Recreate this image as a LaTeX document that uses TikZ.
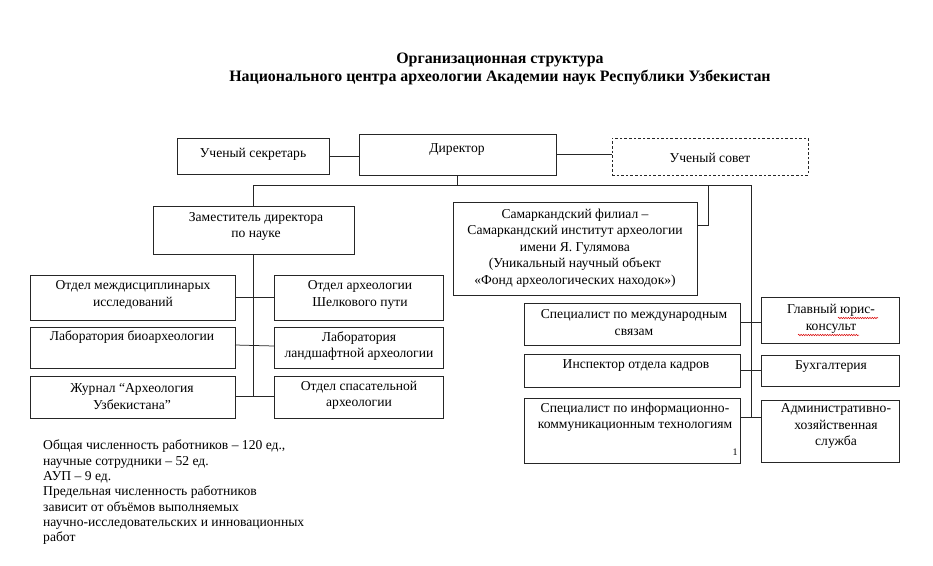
\documentclass[tikz,border=0pt]{standalone}
\usepackage{fontspec}
\setmainfont{Liberation Serif}
\usetikzlibrary{calc,decorations.pathmorphing}
\tikzset{
  box/.style={draw=black!85, line width=0.75pt, inner sep=0pt, outer sep=0pt},
  dbox/.style={box, dash pattern=on 2.6pt off 2pt},
  txt/.style={inner sep=0pt, align=center, font=\fontsize{13.6}{16.4}\selectfont},
  conn/.style={draw=black!85, line width=0.75pt},
  squig/.style={draw=red!85!black, line width=0.5pt, decorate,
    decoration={snake, amplitude=0.7pt, segment length=2.4pt}},
}
% \bx[style]{name}{x1}{y1}{x2}{y2}{text x,y}{text}
\newcommand\bx[8][box]{%
  \pgfmathsetmacro\bxw{#5-#3}%
  \pgfmathsetmacro\bxh{#6-#4}%
  \node[#1, minimum width=\bxw pt, minimum height=\bxh pt, anchor=north west] (#2) at (#3,#4) {};
  \node[txt] (#2-t) at (#7) {#8};
}
\begin{document}
\begin{tikzpicture}[x=1pt,y=-1pt]
\useasboundingbox (0,0) rectangle (933,565);

\node[inner sep=0pt, align=center, font=\fontsize{15.9}{18}\selectfont\bfseries] (title) at (500,69)
  {Организационная структура\\Национального центра археологии Академии наук Республики Узбекистан};

% top row
\bx{sec}{177}{138}{329}{174}{253,154}{Ученый секретарь}
\bx{dir}{359}{134}{556}{175}{457,149}{Директор}
\bx[dbox]{sov}{612}{138}{808}{175}{710,158}{Ученый совет}

% second row
\bx{zam}{153}{206}{354}{254}{256,226.5}{Заместитель директора\\по науке}
\bx{sam}{453}{202}{697}{295}{575,248}{Самаркандский филиал –\\Самаркандский институт археологии\\имени Я. Гулямова\\(Уникальный научный объект\\«Фонд археологических находок»)}

% left column
\bx{md}{30}{275}{235}{320}{133,295}{Отдел междисциплинарых\\исследований}
\bx{bio}{30}{327}{235}{368}{132,337}{Лаборатория биоархеологии}
\bx{zh}{30}{376}{235}{418}{132,396.5}{Журнал “Археология\\Узбекистана”}
\bx{sh}{274}{275}{443}{320}{360,295}{Отдел археологии\\Шелкового пути}
\bx{lan}{274}{327}{443}{368}{359,346}{Лаборатория\\ландшафтной археологии}
\bx{sp}{274}{376}{443}{418}{359,395}{Отдел спасательной\\археологии}

% right column
\bx{mezh}{524}{303}{740}{345}{634,322.5}{Специалист по международным\\связам}
\bx{insp}{524}{354}{740}{387}{636,365}{Инспектор отдела кадров}
\bx{ikt}{524}{398}{740}{463}{635,417}{Специалист по информационно-\\коммуникационным технологиям}
\bx{yur}{761}{297}{899}{343}{831,319}{Главный юрис-\\консульт}
\bx{buh}{761}{355}{899}{386}{831,367}{Бухгалтерия}
\bx{ahs}{761}{400}{899}{462}{836,426}{Административно-\\хозяйственная\\служба}

\node[inner sep=0pt, font=\fontsize{10}{12}\selectfont] (pg) at (735,452) {1};

% spell-check marks
\draw[squig] (838,318) -- (878,318);
\draw[squig] (798,335) -- (859,335);

% connectors
\coordinate (busL) at (253.5,185);
\coordinate (busR) at (751,185);
\coordinate (busS) at (708,185);
\coordinate (spR) at (751,417);
\coordinate (spL) at (253.5,396);

\draw[conn] (sec.east) -- (sec.east -| dir.west);
\draw[conn] (dir.east) -- (dir.east -| sov.west);
\draw[conn] (dir.south) -- (dir.south |- busR);
\draw[conn] (zam.north) -- (busL) -- (busR) -- (spR);
\draw[conn] (busS) |- ($(sam.north east)+(0,23)$);

\draw[conn] (zam.south) -- (spL);
\draw[conn] (md.east) -- (md.east -| sh.west);
\draw[conn] (235,345) -- (274,346);
\draw[conn] (zh.east |- spL) -- (sp.west |- spL);

\draw[conn] (mezh.east |- 0,322) -- (yur.west |- 0,322);
\draw[conn] (insp.east) -- (insp.east -| buh.west);
\draw[conn] (ikt.east |- spR) -- (ahs.west |- spR);

% notes
\node[inner sep=0pt, anchor=north west, align=left, font=\fontsize{13.6}{15.3}\selectfont] (notes) at (43,440)
  {Общая численность работников – 120 ед.,\\
   научные сотрудники – 52 ед.\\
   АУП – 9 ед.\\
   Предельная численность работников\\
   зависит от объёмов выполняемых\\
   научно-исследовательских и инновационных\\
   работ};
\end{tikzpicture}
\end{document}
